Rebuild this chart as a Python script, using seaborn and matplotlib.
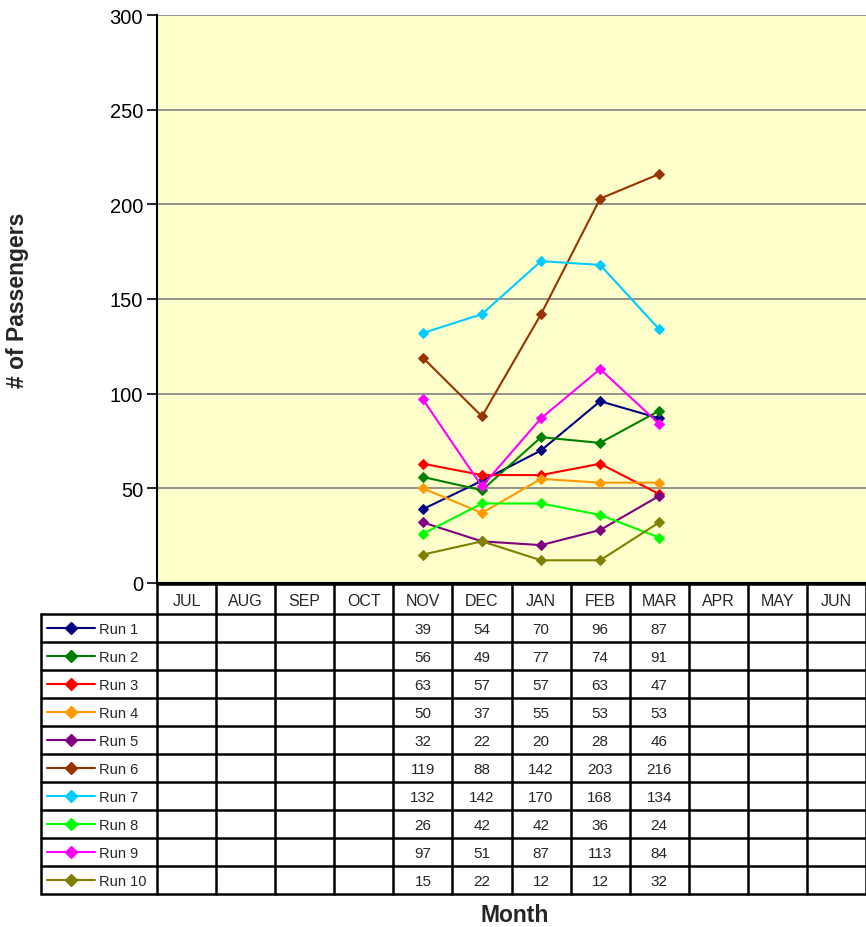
import numpy as np
import pandas as pd
import matplotlib
matplotlib.use("Agg")
from matplotlib import pyplot as plt
import seaborn as sns

# 데이터
months = ["JUL", "AUG", "SEP", "OCT", "NOV", "DEC", "JAN", "FEB", "MAR", "APR", "MAY", "JUN"]
data_months = ["NOV", "DEC", "JAN", "FEB", "MAR"]
run_names = ["Run 1", "Run 2", "Run 3", "Run 4", "Run 5", "Run 6", "Run 7", "Run 8", "Run 9", "Run 10"]
run1 = [39, 54, 70, 96, 87]
run2 = [56, 49, 77, 74, 91]
run3 = [63, 57, 57, 63, 47]
run4 = [50, 37, 55, 53, 53]
run5 = [32, 22, 20, 28, 46]
run6 = [119, 88, 142, 203, 216]
run7 = [132, 142, 170, 168, 134]
run8 = [26, 42, 42, 36, 24]
run9 = [97, 51, 87, 113, 84]
run10 = [15, 22, 12, 12, 32]
runs = [run1, run2, run3, run4, run5, run6, run7, run8, run9, run10]
run_colors = ["#000080", "#008000", "#FF0000", "#FF9900", "#800080",
              "#993300", "#00CCFF", "#00FF00", "#FF00FF", "#808000"]

# long-form 데이터프레임
rows = []
for name, vals in zip(run_names, runs):
    for m, v in zip(data_months, vals):
        rows.append({"run": name, "month": m, "pos": months.index(m), "value": v})
df = pd.DataFrame(rows)

sns.set_style("white")
plt.rcParams["font.family"] = ["Liberation Sans", "DejaVu Sans"]

W, H = 866, 928
fig = plt.figure(figsize=(W / 100, H / 100), dpi=100)

# 메인 차트 영역
px_l, px_r, px_t, px_b = 157, 866, 16, 584
ax = fig.add_axes([px_l / W, 1 - px_b / H, (px_r - px_l) / W, (px_b - px_t) / H])
ax.set_facecolor("#FFFFCC")
for name, color in zip(run_names, run_colors):
    sns.lineplot(data=df[df["run"] == name], x="pos", y="value", ax=ax, color=color,
                 marker="D", markersize=5.5, markeredgecolor=color, linewidth=1.5,
                 legend=False, zorder=3)
ax.set_xlim(-0.5, 11.5)
ax.set_ylim(0, 300)
ax.set_yticks(np.arange(0, 301, 50))
ax.set_xticks([])
ax.yaxis.grid(True, color="#808080", linewidth=1.2)
ax.set_axisbelow(True)
for s in ["top", "right"]:
    ax.spines[s].set_visible(False)
ax.spines["left"].set_color("black")
ax.spines["bottom"].set_color("black")
ax.spines["left"].set_linewidth(1.5)
ax.spines["bottom"].set_linewidth(1.5)
ax.tick_params(axis="y", which="major", left=True, length=7, width=1.2,
               direction="out", labelsize=14.5, pad=3, colors="black")
ax.set_xlabel("")
ax.set_ylabel("")
fig.text(18 / W, 1 - 300 / H, "# of Passengers", rotation=90, ha="center", va="center",
         fontsize=16.5, fontweight="bold")

# 데이터 테이블
tb_l, tb_t, tb_b = 41, 585, 895
col_w = (px_r - px_l) / 12.0
label_w = (px_l - tb_l) / col_w
tax = fig.add_axes([tb_l / W, 1 - tb_b / H, (px_r - tb_l) / W, (tb_b - tb_t) / H])
tax.set_xlim(-0.5 - label_w, 11.5)
head_h, row_h = 30, 28
total_h = head_h + row_h * len(run_names)
tax.set_ylim(total_h, 0)
tax.axis("off")

lw = 1.8
x0 = -0.5 - label_w
# 헤더
tax.plot([-0.5, 11.5], [0, 0], color="black", lw=lw, clip_on=False)
for i, m in enumerate(months):
    tax.text(i, head_h / 2 + 1, m, ha="center", va="center", fontsize=11.5)
# 가로선
for r in range(len(run_names) + 1):
    y = head_h + r * row_h
    tax.plot([x0, 11.5], [y, y], color="black", lw=lw, clip_on=False)
# 세로선
tax.plot([x0, x0], [head_h, total_h], color="black", lw=lw, clip_on=False)
for c in range(13):
    xc = c - 0.5
    tax.plot([xc, xc], [0, total_h], color="black", lw=lw, clip_on=False)

seg_l = (47 - px_l) / col_w - 0.5
seg_r = (95 - px_l) / col_w - 0.5
txt_x = (99 - px_l) / col_w - 0.5
for r, (name, vals, color) in enumerate(zip(run_names, runs, run_colors)):
    yc = head_h + r * row_h + row_h / 2
    tax.plot([seg_l, seg_r], [yc, yc], color=color, lw=1.5, clip_on=False)
    tax.plot([(seg_l + seg_r) / 2], [yc], marker="D", markersize=6, color=color, clip_on=False)
    tax.text(txt_x, yc + 1, name, ha="left", va="center", fontsize=10.5)
    for m, v in zip(data_months, vals):
        tax.text(months.index(m), yc + 1, str(v), ha="center", va="center", fontsize=11)

fig.text(515 / W, 1 - 916 / H, "Month", ha="center", va="center", fontsize=16.5, fontweight="bold")

fig.savefig("out.png", dpi=100)
